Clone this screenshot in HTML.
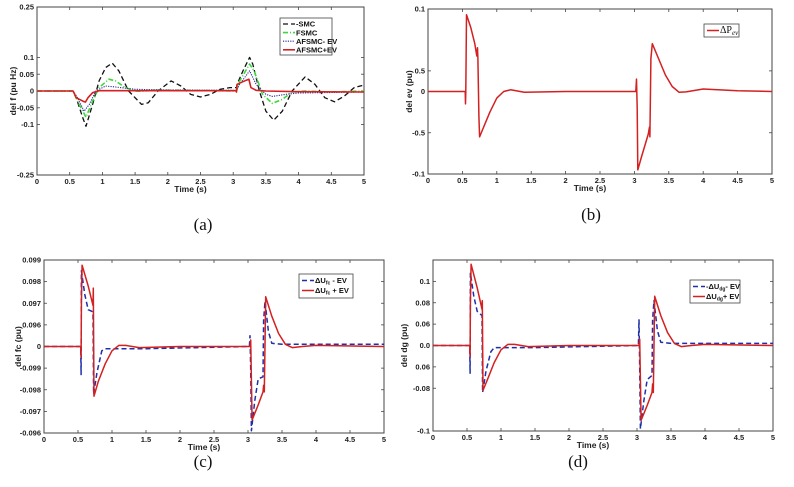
<!DOCTYPE html>
<html><head><meta charset="utf-8">
<style>
html,body{margin:0;padding:0;background:#fff;}
svg{display:block;font-family:"Liberation Sans",Arial,sans-serif;}
.tk{font-size:7.5px;font-weight:bold;fill:#222;}
.al{font-size:8.5px;font-weight:bold;fill:#222;}
.lg{font-size:7.5px;font-weight:bold;fill:#111;}
.cap{font-family:"Liberation Serif",serif;font-size:17px;fill:#111;}
</style></head>
<body>
<svg id="fig" width="794" height="487" viewBox="0 0 794 487">
<text class="cap" x="203" y="230" text-anchor="middle">(a)</text>
<text class="cap" x="591" y="220" text-anchor="middle">(b)</text>
<text class="cap" x="203" y="467" text-anchor="middle">(c)</text>
<text class="cap" x="578" y="467" text-anchor="middle">(d)</text>
</svg>
<script>
// ---- shared x axis ----
const xTicks = [0,0.5,1,1.5,2,2.5,3,3.5,4,4.5,5];
const xTickLabels = ["0","0.5","1","1.5","2","2.5","3","3.5","4","4.5","5"];
// ---- panel (a) ----
const aYTicks = [0.25,0.1,0.05,0,-0.05,-0.1,-0.25];
const aYTickLabels = ["0.25","0.1","0.05","0","-0.05","-0.1","-0.25"];
const aSmcT = [0,0.55,0.6,0.7,0.75,0.85,0.95,1.05,1.15,1.25,1.4,1.6,1.7,1.85,2.05,2.2,2.35,2.5,2.65,2.8,2.95,3.05,3.06,3.15,3.25,3.3,3.4,3.5,3.62,3.75,3.9,4.1,4.25,4.4,4.55,4.7,4.85,5];
const aSmcV = [0,0,-0.02,-0.08,-0.105,-0.04,0.03,0.07,0.083,0.06,0,-0.04,-0.035,0,0.03,0.015,-0.01,-0.018,-0.01,0.005,0.01,0.01,0.02,0.06,0.1,0.08,0,-0.06,-0.087,-0.06,0,0.042,0.02,-0.02,-0.032,-0.015,0.01,0.018];
const aFsmcT = [0,0.55,0.62,0.75,0.85,0.95,1.1,1.2,1.35,1.5,1.6,1.8,2.2,3.05,3.1,3.25,3.32,3.45,3.6,3.75,3.9,4.1,4.5,5];
const aFsmcV = [0,0,-0.03,-0.078,-0.03,0.01,0.035,0.03,0.01,0,-0.001,0.003,0.002,0,0.03,0.08,0.06,-0.01,-0.037,-0.025,-0.003,0,-0.003,0];
const aAfsT = [0,0.55,0.62,0.72,0.8,0.9,1.05,1.2,1.5,2,3.05,3.1,3.25,3.35,3.5,3.6,3.8,4,5];
const aAfsV = [0,0,-0.02,-0.06,-0.04,0,0.015,0.012,0.005,0.003,0.002,0.02,0.06,0.02,-0.01,-0.016,-0.01,-0.006,-0.003];
const aEvT = [0,0.55,0.56,0.6,0.7,0.74,0.78,0.85,0.95,2,3.04,3.05,3.06,3.2,3.24,3.27,3.35,3.5,4,5];
const aEvV = [0,0,-0.003,-0.02,-0.03,-0.033,-0.02,-0.005,0.001,0.001,0.001,-0.003,0.02,0.032,0.035,0.01,0.002,0,-0.002,-0.003];
// ---- panel (b) (display units: tick labels are printed values) ----
const bYTicks = [1,0.25,0,-0.5,-1];
const bYTickLabels = ["0.1","0.5","0","-0.5","-0.1"];
const bEvT = [0,0.54,0.545,0.55,0.56,0.62,0.68,0.71,0.72,0.725,0.74,0.75,0.8,0.9,1.0,1.1,1.2,1.4,2,3.02,3.03,3.04,3.05,3.1,3.2,3.22,3.225,3.24,3.26,3.35,3.45,3.55,3.65,3.75,4.0,4.5,5];
const bEvV = [0,0,-0.15,0,0.93,0.78,0.58,0.43,0.53,0.4,-0.3,-0.55,-0.45,-0.25,-0.08,0,0.02,-0.01,0,0,0.15,-0.2,-0.95,-0.8,-0.52,-0.43,-0.55,0.4,0.58,0.4,0.2,0.06,-0.01,-0.005,0.03,0.01,0];
// ---- panel (c) ----
const cYTicks = [4,3,2,1,0,-1,-2,-3,-4];
const cYTickLabels = ["0.099","0.098","0.097","0.096","0","-0.099","-0.098","-0.097","-0.096"];
const cBlueT = [0,0.54,0.545,0.55,0.6,0.65,0.72,0.73,0.78,0.85,0.9,1.5,3.02,3.03,3.04,3.05,3.1,3.15,3.22,3.23,3.25,3.3,3.35,3.5,5];
const cBlueV = [0,0,-1.3,3.5,2.4,1.7,1.6,-2.2,-1.2,-0.2,-0.1,-0.1,0,0.5,-1,-3.9,-2.5,-1.5,-1.4,1.2,2.1,0.7,0.15,0.1,0.1];
const cRedT = [0,0.54,0.545,0.55,0.56,0.65,0.72,0.725,0.735,0.8,0.9,1.0,1.1,1.2,1.4,2,3.03,3.04,3.06,3.15,3.22,3.23,3.24,3.26,3.35,3.45,3.55,3.65,3.8,4,5];
const cRedV = [0,0,-0.5,2,3.76,2.8,1.9,2.7,-2.3,-1.6,-0.8,-0.2,0.05,0.05,-0.05,0,0,0.3,-3.4,-2.7,-2.1,-1.8,-2.1,2.3,1.4,0.6,0.1,-0.05,0,0.05,0];
// ---- panel (d) ----
const dYTicks = [3,2,1,0,-1,-2,-4];
const dYTickLabels = ["0.1","0.08","0.06","0.0","0.06","-0.08","-0.1"];
const dBlueT = [0,0.54,0.545,0.55,0.6,0.65,0.72,0.73,0.78,0.85,0.9,1.5,3.02,3.03,3.04,3.05,3.1,3.15,3.22,3.23,3.25,3.3,3.35,3.5,5];
const dBlueV = [0,0,-1.3,3.4,2.3,1.6,1.4,-2.2,-1.2,-0.3,-0.1,-0.1,0,1.2,-1,-3.9,-2.6,-1.6,-1.4,1.2,2.1,0.7,0.15,0.1,0.1];
const dRedT = [0,0.54,0.545,0.55,0.56,0.65,0.72,0.725,0.735,0.8,0.9,1.0,1.1,1.2,1.4,2,3.03,3.04,3.06,3.15,3.22,3.23,3.24,3.26,3.35,3.45,3.55,3.65,3.8,4,5];
const dRedV = [0,0,-0.5,2,3.8,2.7,1.7,2.1,-2.1,-1.6,-0.8,-0.2,0.05,0.05,-0.05,0,0,0.3,-3.5,-2.8,-2.2,-1.8,-2.2,2.3,1.4,0.6,0.1,-0.05,0,0.05,0];

const NS='http://www.w3.org/2000/svg';
const svg=document.getElementById('fig');
function mk(tag,attrs,parent){const e=document.createElementNS(NS,tag);for(const k in attrs)e.setAttribute(k,attrs[k]);(parent||svg).appendChild(e);return e;}

function panel(id,box,ymin,ymax,yT,yL,ylabel,series,legend){
  const g=mk('g',{});
  
  
  const X=t=>box.l+(t-0)/(5-0)*(box.r-box.l);
  const Y=v=>box.b-(v-ymin)/(ymax-ymin)*(box.b-box.t);
  const frame=mk('rect',{x:box.l,y:box.t,width:box.r-box.l,height:box.b-box.t,fill:'#fff',stroke:'#444','stroke-width':1},g);
  
  
  xTicks.forEach((t,i)=>{
    const x=X(t);
    mk('line',{x1:x,x2:x,y1:box.b,y2:box.b-3,stroke:'#444','stroke-width':0.8},g);
    mk('line',{x1:x,x2:x,y1:box.t,y2:box.t+3,stroke:'#444','stroke-width':0.8},g);
    const tx=mk('text',{x:x,y:box.b+9,'text-anchor':'middle',class:'tk'},g);
    tx.textContent=xTickLabels[i];
    
    
  });
  yT.forEach((v,i)=>{
    const y=Y(v);
    mk('line',{x1:box.l,x2:box.l+3,y1:y,y2:y,stroke:'#444','stroke-width':0.8},g);
    mk('line',{x1:box.r,x2:box.r-3,y1:y,y2:y,stroke:'#444','stroke-width':0.8},g);
    const tx=mk('text',{x:box.l-3,y:y+2.6,'text-anchor':'end',class:'tk'},g);
    tx.textContent=yL[i];
    
    
  });
  const xt=mk('text',{x:(box.l+box.r)/2-10,y:box.b+17,'text-anchor':'middle',class:'al'},g);
  xt.textContent='Time (s)';
  
  
  const yx=box.ylx, yy=(box.t+box.b)/2;
  const yt=mk('text',{x:yx,y:yy,'text-anchor':'middle',class:'al',transform:'rotate(-90 '+yx+' '+yy+')'},g);
  yt.textContent=ylabel;
  
  
  series.forEach(s=>{
    const pts=s.t.map((t,i)=>X(t).toFixed(1)+','+Y(s.v[i]).toFixed(1)).join(' ');
    const p=mk('polyline',{points:pts,fill:'none',stroke:s.c,'stroke-width':s.w,'stroke-dasharray':s.d||'none','stroke-linejoin':'round'},g);
    
    
  });
  const lb=mk('rect',{x:legend.x,y:legend.y,width:legend.w,height:legend.h,fill:'#fff',stroke:'#444','stroke-width':0.8},g);
  
  
  legend.items.forEach((it,i)=>{
    const y=legend.y+legend.pad+i*legend.step;
    const s=series[it.s];
    const l=mk('line',{x1:legend.x+3,x2:legend.x+15,y1:y,y2:y,stroke:s.c,'stroke-width':s.w,'stroke-dasharray':s.d||'none'},g);
    
    
    const tx=mk('text',{x:legend.x+16,y:y+2.7,class:'lg'},g);
    tx.innerHTML=it.label;
    
    
  });
}

panel('a',{l:37,r:364,t:7,b:175,ylx:16},-0.25,0.25,aYTicks,aYTickLabels,'del f (pu Hz)',[
  {name:'line-smc',t:aSmcT,v:aSmcV,c:'#111',w:1.3,d:'5,3'},
  {name:'line-fsmc',t:aFsmcT,v:aFsmcV,c:'#3dd63d',w:1.6,d:'5,2,1,2'},
  {name:'line-afsmc-minus-ev',t:aAfsT,v:aAfsV,c:'#2a2a9a',w:1.1,d:'1.2,1.2'},
  {name:'line-afsmc-plus-ev',t:aEvT,v:aEvV,c:'#d42020',w:1.6}
],{x:280,y:18,w:52,h:37,pad:6,step:8.6,items:[
  {s:0,label:'-SMC'},{s:1,label:'FSMC'},{s:2,label:'AFSMC- EV'},{s:3,label:'AFSMC+EV'}]});

panel('b',{l:428,r:772,t:9,b:174,ylx:412},-1,1,bYTicks,bYTickLabels,'del ev (pu)',[
  {name:'line-delta-pev',t:bEvT,v:bEvV,c:'#d42020',w:1.5}
],{x:704,y:24,w:35,h:13,pad:6.5,step:9,items:[
  {s:0,label:'<tspan font-family="Liberation Serif" font-size="10" font-weight="normal">ΔP</tspan><tspan font-family="Liberation Serif" font-size="7" font-style="italic" font-weight="normal" dy="2">ev</tspan>'}]});

panel('c',{l:44,r:384,t:260,b:433,ylx:21},-4,4,cYTicks,cYTickLabels,'del fc (pu)',[
  {name:'line-dufc-minus-ev',t:cBlueT,v:cBlueV,c:'#1f2fa8',w:1.5,d:'5,3'},
  {name:'line-dufc-plus-ev',t:cRedT,v:cRedV,c:'#d42020',w:1.5}
],{x:299,y:274,w:54,h:24,pad:6.5,step:10,items:[
  {s:0,label:'ΔU<tspan font-size="5" dy="1.5">fc</tspan><tspan dy="-1.5"> - EV</tspan>'},{s:1,label:'ΔU<tspan font-size="5" dy="1.5">fc</tspan><tspan dy="-1.5"> + EV</tspan>'}]});

panel('d',{l:433,r:773,t:260,b:431,ylx:407},-4,4,dYTicks,dYTickLabels,'del dg (pu)',[
  {name:'line-dudg-minus-ev',t:dBlueT,v:dBlueV,c:'#1f2fa8',w:1.5,d:'5,3'},
  {name:'line-dudg-plus-ev',t:dRedT,v:dRedV,c:'#d42020',w:1.5}
],{x:690,y:280,w:50,h:23,pad:6.5,step:10,items:[
  {s:0,label:'-ΔU<tspan font-size="5" dy="1.5">dg</tspan><tspan dy="-1.5">- EV</tspan>'},{s:1,label:'ΔU<tspan font-size="5" dy="1.5">dg</tspan><tspan dy="-1.5">+ EV</tspan>'}]});
</script>
</body></html>
